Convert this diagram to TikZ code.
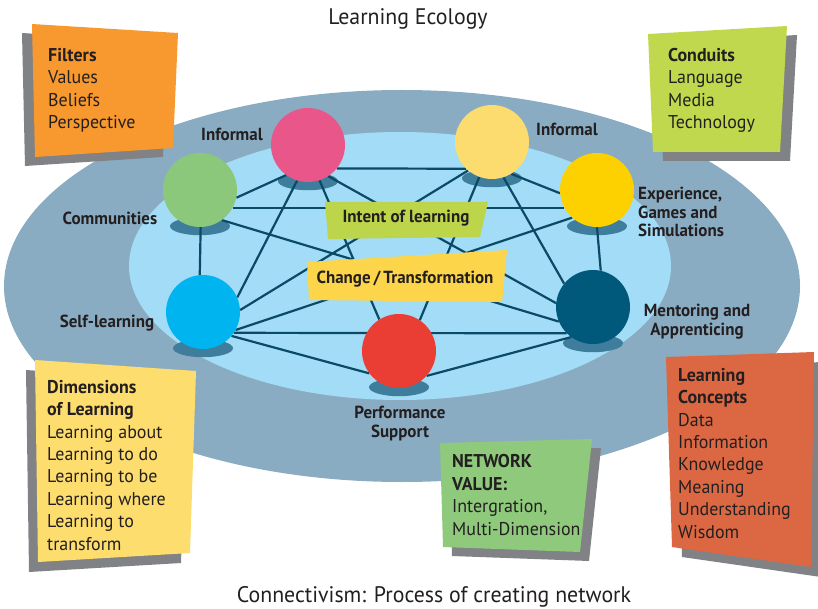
\documentclass[tikz,border=0pt]{standalone}
\usepackage{fontspec}
\setmainfont{PT Sans}[FakeStretch=0.97]
\usetikzlibrary{positioning}

\definecolor{outerc}{HTML}{8AACC2}
\definecolor{innerc}{HTML}{A2DCF6}
\definecolor{shadowc}{HTML}{3E7D9C}
\definecolor{linkc}{HTML}{0B4A66}
\definecolor{greyc}{HTML}{808286}
\definecolor{inkc}{HTML}{231F20}
\definecolor{commc}{HTML}{8CC87B}
\definecolor{pinkc}{HTML}{E8568A}
\definecolor{paleyc}{HTML}{FDDC6F}
\definecolor{goldc}{HTML}{FDD000}
\definecolor{darkc}{HTML}{00587A}
\definecolor{redc}{HTML}{EA3E34}
\definecolor{cyanc}{HTML}{00B4EF}
\definecolor{filterc}{HTML}{F7992F}
\definecolor{limec}{HTML}{BFD84E}
\definecolor{notec}{HTML}{FEDD6F}
\definecolor{valuec}{HTML}{8EC97C}
\definecolor{conceptc}{HTML}{DC6843}
\definecolor{intentc}{HTML}{BDD54B}
\definecolor{changec}{HTML}{FDD54A}

\pgfdeclarelayer{eco}
\pgfdeclarelayer{links}
\pgfsetlayers{eco,links,main}

\begin{document}
\begin{tikzpicture}[x=1pt,y=-1pt,
  ball/.style={circle,inner sep=0pt,minimum size=74pt},
  link/.style={draw=linkc,line width=2.2pt},
  ballname/.style={font=\fontsize{17.5}{18.5}\selectfont\bfseries,text=inkc,inner sep=0pt},
  notetext/.style={font=\fontsize{18.5}{22.4}\selectfont,text=inkc,align=left,anchor=base west,inner sep=0pt},
  headline/.style={font=\fontsize{22.5}{26}\selectfont,text=inkc,inner sep=0pt}]
% see the reference: 818 x 609

  \useasboundingbox (0,0) rectangle (818,609);

% titles
  \node[headline] (title) at (408,19) {Learning Ecology};
  \node[headline] (caption) at (434,597) {Connectivism: Process of creating network};

% the seven nodes
  \node[ball,fill=commc]  (comm) at (200,190) {};
  \node[ball,fill=pinkc]  (pink) at (308,145) {};
  \node[ball,fill=paleyc] (paley) at (492,142) {};
  \node[ball,fill=goldc]  (gold) at (597,190) {};
  \node[ball,fill=darkc]  (dark) at (593,307) {};
  \node[ball,fill=redc]   (red)  at (399,351) {};
  \node[ball,fill=cyanc]  (cyan) at (203,312) {};

% ecology ellipses and shadows under the nodes
  \begin{pgfonlayer}{eco}
    \fill[outerc] (402,286) ellipse (398 and 196);
    \fill[innerc] (400,266) ellipse (271 and 134);
    \foreach \n in {comm,pink,paley,gold,dark,red,cyan}
      \fill[shadowc] (\n.south) ++(0,-1) ellipse (30 and 9);
  \end{pgfonlayer}

% network
  \begin{pgfonlayer}{links}
    \draw[link] (pink.-39)   -- (paley.-134);
    \draw[link] (comm.-29)   -- (gold.-151);
    \draw[link] (comm.-12)   -- (pink.-126);
    \draw[link] (comm.-89)   -- (cyan.95);
    \draw[link] (comm.-54)   -- (dark.-157);
    \draw[link] (pink.-107)  -- (cyan.23);
    \draw[link] (pink.-72)   -- (red.122);
    \draw[link] (pink.-57)   -- (dark.174);
    \draw[link] (paley.-130) -- (cyan.3);
    \draw[link] (paley.-110) -- (red.56);
    \draw[link] (paley.-72)  -- (dark.141);
    \draw[link] (paley.-59)  -- (gold.185);
    \draw[link] (gold.-90)   -- (dark.78);
    \draw[link] (gold.-132)  -- (cyan.-29);
    \draw[link] (cyan.-34)   -- (dark.-135);
    \draw[link] (cyan.-40)   -- (red.-143);
    \draw[link] (red.-42)    -- (dark.-126);
  \end{pgfonlayer}

% node names (multi-line ones sit on their last baseline)
  \node[ballname] (pinkname) at (232,134) {Informal};
  \node[ballname] (paleyname) at (567,129) {Informal};
  \node[ballname] (commname) at (110,218) {Communities};
  \node[ballname,align=left,anchor=base west] (goldname) at (638,237) {Experience,\\Games and\\Simulations};
  \node[ballname] (cyanname) at (107,323) {Self-learning};
  \node[ballname,align=center,anchor=base] (darkname) at (697,335) {Mentoring and\\Apprenticing};
  \node[ballname,align=center,anchor=base] (redname) at (400,437) {Performance\\Support};

% labels in the middle
  \fill[intentc] (325,202) -- (488,202) -- (480,237) -- (328,239) -- cycle;
  \node[ballname] (intent) at (406,218) {Intent of learning};
  \fill[changec] (307,262) -- (507,250) -- (502,302) -- (309,300) -- cycle;
  \node[ballname] (change) at (405,279) {Change\,/\,Transformation};

% notes with grey shadows
  \fill[greyc,shift={(-10,9)}] (32,24) -- (178,33) -- (173,148) -- (35,157) -- cycle;
  \fill[filterc] (32,24) -- (178,33) -- (173,148) -- (35,157) -- cycle;
  \node[notetext] (filters) at (48,128.5) {\textbf{Filters}\\Values\\Beliefs\\Perspective};

  \fill[greyc,shift={(10,9)}] (648,34) -- (787,26) -- (780,152) -- (653,152) -- cycle;
  \fill[limec] (648,34) -- (787,26) -- (780,152) -- (653,152) -- cycle;
  \node[notetext] (conduits) at (668,128.5) {\textbf{Conduits}\\Language\\Media\\Technology};

  \fill[greyc,shift={(-9,10)}] (35,360) -- (196,371) -- (190,553) -- (38,562) -- cycle;
  \fill[notec] (35,360) -- (196,371) -- (190,553) -- (38,562) -- cycle;
  \node[notetext] (dimensions) at (47,550) {\textbf{Dimensions}\\\textbf{of Learning}\\Learning about\\Learning to do\\Learning to be\\Learning where\\Learning to\\transform};

  \fill[greyc,shift={(9,9)}] (440,443) -- (592,439) -- (580,552) -- (443,547) -- cycle;
  \fill[valuec] (440,443) -- (592,439) -- (580,552) -- (443,547) -- cycle;
  \node[notetext] (netvalue) at (452,535) {\textbf{NETWORK}\\\textbf{VALUE:}\\Intergration,\\Multi-Dimension};

  \fill[greyc,shift={(10,10)}] (666,357) -- (814,352) -- (811,567) -- (672,547) -- cycle;
  \fill[conceptc] (666,357) -- (814,352) -- (811,567) -- (672,547) -- cycle;
  \node[notetext] (concepts) at (678,538) {\textbf{Learning}\\\textbf{Concepts}\\Data\\Information\\Knowledge\\Meaning\\Understanding\\Wisdom};

\end{tikzpicture}
\end{document}
